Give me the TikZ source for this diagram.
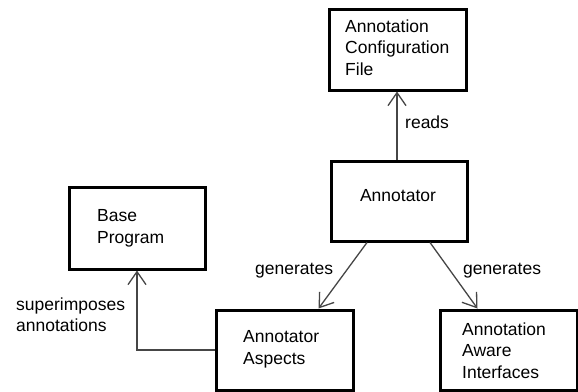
\documentclass[tikz,border=0pt]{standalone}
\usepackage{fontspec}
\setmainfont{Liberation Sans}
\usetikzlibrary{arrows.meta,calc}
\tikzset{
  box/.style={draw=black,line width=3pt,inner sep=0pt,anchor=north west},
  txt/.style={inner sep=0pt,anchor=north west,align=left,font=\fontsize{17.5}{21.5}\selectfont},
  conn/.style={draw={rgb,255:red,70;green,70;blue,70},line width=1.3pt,-{Straight Barb[length=13pt,width=18pt,line width=1.3pt]}},
}
\begin{document}
\begin{tikzpicture}[x=1pt,y=-1pt]
\useasboundingbox (0,0) rectangle (578,391);
% boxes
\node[box,minimum width=137pt,minimum height=81pt] (cfg) at (327.5,7.5) {};
\node[box,minimum width=136pt,minimum height=80pt] (ann) at (329.5,159.5) {};
\node[box,minimum width=137pt,minimum height=80pt] (asp) at (214.5,308.5) {};
\node[box,minimum width=137pt,minimum height=80pt] (aai) at (438.5,308.5) {};
\node[box,minimum width=136pt,minimum height=82pt] (base) at (67.5,185.5) {};
% texts
\node[txt] (cfgt) at (345,19.5) {Annotation\\Configuration\\File};
\node[txt,anchor=base] (annt) at (398,201) {Annotator};
\node[txt] (aspt) at (243,330.5) {Annotator\\Aspects};
\node[txt] (aait) at (462,322.5) {Annotation\\Aware\\Interfaces};
\node[txt] (baset) at (97,209.5) {Base\\Program};
% labels
\node[txt,anchor=base west] (reads) at (405,128) {reads};
\node[txt,anchor=base west] (gen1) at (255,274) {generates};
\node[txt,anchor=base west] (gen2) at (463,274) {generates};
\node[txt] (sup) at (16,297.5) {superimposes\\annotations};
% connectors
\draw[conn] (ann.north -| 397,0) -- (cfg.south -| 397,0);
\draw[conn] ($(ann.south)+(-32,0)$) -- ($(asp.north)+(34,0)$);
\draw[conn] ($(ann.south)+(31,0)$) -- ($(aai.north)+(-31,0)$);
\draw[conn] (asp.west) -| (base.south);
\end{tikzpicture}
\end{document}
